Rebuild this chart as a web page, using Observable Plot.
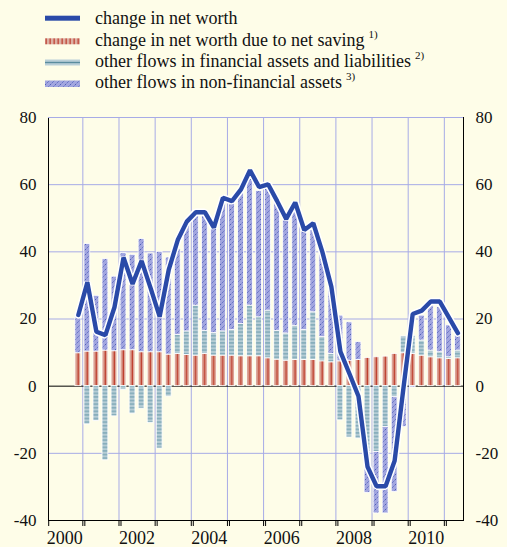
<!DOCTYPE html>
<html>
<head>
<meta charset="utf-8">
<script src="https://cdn.jsdelivr.net/npm/d3@7"></script>
<script src="https://cdn.jsdelivr.net/npm/@observablehq/plot@0.6"></script>
<style>
  html, body { margin: 0; padding: 0; background: #FEFDE8; }
  #wrap { width: 507px; height: 547px; background: #FEFDE8; font-family: 'Liberation Serif', 'Times New Roman', serif; }
  #wrap svg { display: block; }
  #wrap text { font-family: 'Liberation Serif', 'Times New Roman', serif; }
</style>
</head>
<body>
<div id="wrap">
  <svg id="legend" width="507" height="100"></svg>
  <div id="chart"></div>
</div>
<script>
// ---------- data ----------
const quarters = [
  "2000Q4",
  "2001Q1","2001Q2","2001Q3","2001Q4",
  "2002Q1","2002Q2","2002Q3","2002Q4",
  "2003Q1","2003Q2","2003Q3","2003Q4",
  "2004Q1","2004Q2","2004Q3","2004Q4",
  "2005Q1","2005Q2","2005Q3","2005Q4",
  "2006Q1","2006Q2","2006Q3","2006Q4",
  "2007Q1","2007Q2","2007Q3","2007Q4",
  "2008Q1","2008Q2","2008Q3","2008Q4",
  "2009Q1","2009Q2","2009Q3","2009Q4",
  "2010Q1","2010Q2","2010Q3","2010Q4",
  "2011Q1","2011Q2"
];
// change in net worth (line)
const netWorth = [
  21.2,
  30.9, 16.2, 15.2, 23.5,
  38.3, 30.4, 37.3, 29.2,
  20.7, 34.6, 43.5, 49.0,
  51.8, 51.8, 47.2, 56.1,
  55.1, 58.6, 64.3, 59.3,
  60.1, 55.1, 49.8, 54.7,
  46.5, 48.5, 40.0, 29.6,
  10.3, 3.7, -3.0, -24.0,
  -29.8, -29.8, -22.2, 0.0,
  21.5, 22.5, 25.2, 25.2,
  20.5, 15.8
];
// change in net worth due to net saving
const netSaving = [
  9.8,
  10.3, 10.3, 10.6, 10.4,
  10.7, 10.7, 10.1, 10.1,
  10.1, 9.4, 9.6, 9.3,
  9.1, 9.6, 9.1, 9.1,
  9.1, 8.9, 8.9, 8.9,
  8.3, 7.9, 7.6, 7.8,
  7.8, 7.8, 7.4, 7.1,
  7.4, 7.6, 7.8, 8.4,
  8.6, 8.8, 9.6, 9.8,
  9.6, 9.1, 8.6, 8.3,
  8.1, 8.3
];
// other flows in financial assets and liabilities
const otherFinancial = [
  0.0,
  -11.4, -10.4, -22.1, -9.0,
  -1.1, -8.2, -6.7, -11.0,
  -18.6, -3.1, 5.7, 7.0,
  14.9, 6.9, 6.7, 7.2,
  7.6, 9.6, 15.1, 11.6,
  14.2, 8.6, 8.1, 10.2,
  8.9, 14.2, 7.2, 2.5,
  -10.2, -15.3, -15.6, -19.6,
  -19.6, -12.2, -3.3, 5.0,
  5.4, 4.5, 2.0, 1.8,
  0.5, 2.3
];
// other flows in non-financial assets
const otherNonFinancial = [
  11.7,
  32.0, 16.6, 27.2, 22.2,
  28.9, 28.4, 33.7, 29.4,
  29.9, 28.9, 25.5, 32.9,
  26.7, 34.7, 31.9, 39.8,
  38.2, 39.6, 38.0, 37.6,
  36.6, 39.6, 34.5, 35.7,
  29.5, 26.2, 25.4, 19.8,
  13.6, 11.4, 5.3, -12.2,
  -18.3, -25.7, -28.2, -12.2,
  -0.4, 7.4, 13.4, 13.4,
  9.5, 4.9
];
const yTicks = [-40, -20, 0, 20, 40, 60, 80];
const yearLabels = [2000, 2002, 2004, 2006, 2008, 2010];
const yearBoundaries = [2001, 2002, 2003, 2004, 2005, 2006, 2007, 2008, 2009, 2010, 2011];
const seriesKeys = ["saving", "financial", "nonfinancial"];
const legendLabels = [
  "change in net worth",
  "change in net worth due to net saving",
  "other flows in financial assets and liabilities",
  "other flows in non-financial assets"
];
const legendNotes = ["", "1)", "2)", "3)"];

// ---------- colours ----------
const gridColor = "#A7ABE6";
const lineColor = "#2A4AA8";
const serif = "'Liberation Serif', 'Times New Roman', serif";

// ---------- patterns + legend ----------
const leg = d3.select("#legend");
const defs = leg.append("defs");
// red: salmon with one dark red vertical stripe per bar
const pS = defs.append("pattern").attr("id", "pSaving")
  .attr("patternUnits", "objectBoundingBox").attr("patternContentUnits", "objectBoundingBox")
  .attr("width", 1).attr("height", 1);
pS.append("rect").attr("width", 1).attr("height", 1).attr("fill", "#DCA394");
pS.append("rect").attr("x", 0.44).attr("width", 0.22).attr("height", 1).attr("fill", "#BD3B2B");
// red legend swatch pattern
const pSL = defs.append("pattern").attr("id", "pSavingLeg")
  .attr("patternUnits", "userSpaceOnUse").attr("width", 4).attr("height", 10);
pSL.append("rect").attr("width", 4).attr("height", 10).attr("fill", "#DDB0A3");
pSL.append("rect").attr("x", 1.5).attr("width", 1.3).attr("height", 10).attr("fill", "#BF4535");
// green: grey-blue with horizontal teal dashes
const pF = defs.append("pattern").attr("id", "pFin")
  .attr("patternUnits", "userSpaceOnUse").attr("width", 9).attr("height", 3.6);
pF.append("rect").attr("width", 9).attr("height", 3.6).attr("fill", "#B6CDD5");
pF.append("rect").attr("y", 1.3).attr("width", 9).attr("height", 0.9).attr("fill", "#5E94A6");
// blue: periwinkle with diagonal dashes
const pN = defs.append("pattern").attr("id", "pNonfin")
  .attr("patternUnits", "userSpaceOnUse").attr("width", 5).attr("height", 5);
pN.append("rect").attr("width", 5).attr("height", 5).attr("fill", "#A2A6DF");
pN.append("path").attr("d", "M0,5 L5,0 M-1,1 L1,-1 M4,6 L6,4")
  .attr("stroke", "#3B4EB2").attr("stroke-width", 0.8).attr("stroke-dasharray", "1.4,1");

const rowBase = [24, 45.5, 66.5, 87.5];
const swX = 45, swW = 35, textX = 95;
// line swatch
leg.append("rect").attr("x", swX).attr("y", 15.7).attr("width", swW).attr("height", 5).attr("fill", lineColor);
// bar swatches
leg.append("rect").attr("x", swX).attr("y", 38.3).attr("width", swW).attr("height", 6).attr("fill", "url(#pSavingLeg)");
const gsw = leg.append("g");
gsw.append("rect").attr("x", swX).attr("y", 59.5).attr("width", swW).attr("height", 6).attr("fill", "#B9CFD7");
gsw.append("rect").attr("x", swX).attr("y", 61.8).attr("width", swW).attr("height", 1.4).attr("fill", "#5A8C9E");
leg.append("rect").attr("x", swX).attr("y", 80.5).attr("width", swW).attr("height", 6.5).attr("fill", "url(#pNonfin)");

legendLabels.forEach((lab, i) => {
  const t = leg.append("text").attr("x", textX).attr("y", rowBase[i])
    .style("font-family", serif).attr("font-size", 18).attr("fill", "#111");
  t.append("tspan").text(lab);
  if (legendNotes[i]) {
    t.append("tspan").attr("dx", 4).attr("dy", -8).attr("font-size", 11).text(legendNotes[i]);
  }
});

// ---------- chart data ----------
const qStart = q => +q.slice(0, 4) + (+q.slice(5) - 1) / 4;
const rows = [];
quarters.forEach((q, i) => {
  const t = qStart(q);
  rows.push({t, t2: t + 0.25, series: "saving", v: netSaving[i]});
  rows.push({t, t2: t + 0.25, series: "financial", v: otherFinancial[i]});
  rows.push({t, t2: t + 0.25, series: "nonfinancial", v: otherNonFinancial[i]});
});
const lineData = quarters.map((q, i) => ({c: qStart(q) + 0.125, v: netWorth[i]}));

const chart = Plot.plot({
  width: 507,
  height: 447,
  marginTop: 17,
  marginBottom: 27,
  marginLeft: 48,
  marginRight: 44,
  style: {background: "transparent", fontFamily: serif, fontSize: "17px", color: "#111", overflow: "visible"},
  x: {domain: [2000.05, 2011.53], axis: null},
  y: {domain: [-40, 80], axis: null},
  color: {domain: seriesKeys, range: ["url(#pSaving)", "url(#pFin)", "url(#pNonfin)"]},
  marks: [
    Plot.gridX(yearBoundaries, {stroke: gridColor, strokeOpacity: 1, strokeWidth: 1}),
    Plot.gridY(yTicks.filter(d => d !== 0 && d !== 80), {stroke: gridColor, strokeOpacity: 1, strokeWidth: 1}),
    Plot.ruleY([0], {stroke: "#000", strokeWidth: 1}),
    Plot.rectY(rows, {
      x1: "t", x2: "t2", y: "v", z: "series", fill: "series",
      order: seriesKeys,
      insetLeft: 1.6, insetRight: 1.6,
      stroke: "white", strokeWidth: 0.8
    }),
    Plot.line(lineData, {x: "c", y: "v", stroke: "white", strokeWidth: 7.5, strokeLinejoin: "miter"}),
    Plot.line(lineData, {x: "c", y: "v", stroke: lineColor, strokeWidth: 4.4, strokeLinejoin: "miter"}),
    Plot.frame({stroke: "#000", strokeWidth: 1}),
    Plot.gridY([80], {stroke: gridColor, strokeOpacity: 1, strokeWidth: 1.2}),
    Plot.axisY(yTicks, {anchor: "left", tickSize: 0, tickPadding: 12, tickFormat: d => String(d), label: null, fontSize: 17}),
    Plot.axisY(yTicks, {anchor: "right", tickSize: 0, tickPadding: 12, tickFormat: d => String(d), label: null, fontSize: 17}),
    Plot.axisX(yearBoundaries, {tickSize: 6, tickFormat: () => "", label: null, stroke: "#000", strokeOpacity: 1}),
    Plot.axisX([2000, ...yearBoundaries], {tickSize: 6, tickFormat: () => "", label: null, stroke: "#000", strokeOpacity: 1, dx: 2}),
    Plot.axisX(yearLabels.map(d => d + 0.5), {tickSize: 0, tickPadding: 11, tickFormat: d => String(Math.floor(d)), label: null, fontSize: 18})
  ]
});
document.getElementById("chart").appendChild(chart);
</script>
</body>
</html>
